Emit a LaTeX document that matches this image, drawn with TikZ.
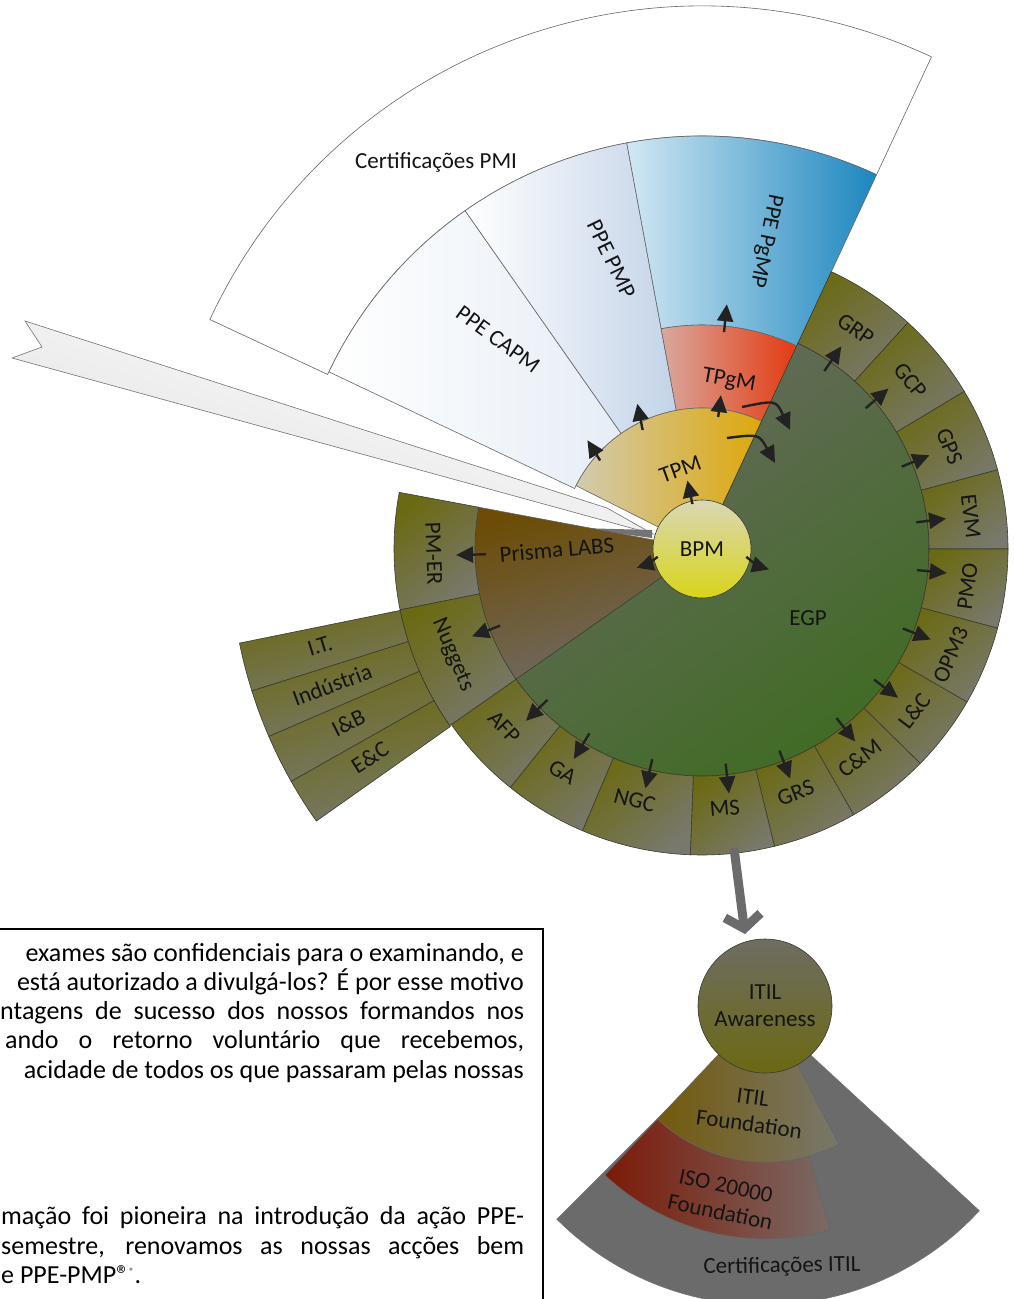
\documentclass[tikz,border=0pt]{standalone}
\usepackage{fontspec}
\setmainfont{Carlito}
\usetikzlibrary{arrows.meta}
\definecolor{olv}{HTML}{6B6A14}
\definecolor{gry}{HTML}{78786C}
\definecolor{egpA}{HTML}{676A5E}
\definecolor{egpB}{HTML}{3D6B20}
\definecolor{prA}{HTML}{6C4C06}
\definecolor{prB}{HTML}{706A64}
\definecolor{bpmA}{HTML}{DAD7B6}
\definecolor{bpmB}{HTML}{D8D518}
\definecolor{tpmA}{HTML}{D2CBB0}
\definecolor{tpmB}{HTML}{DDA80A}
\definecolor{tpgA}{HTML}{D9A89E}
\definecolor{tpgB}{HTML}{E33A10}
\definecolor{pgA}{HTML}{D2E8F3}
\definecolor{pgB}{HTML}{1C86BF}
\definecolor{pmpB}{HTML}{C3D3E8}
\definecolor{capB}{HTML}{E6EDF6}
\definecolor{arrc}{HTML}{222222}
\definecolor{bigg}{HTML}{6B6B6B}
\definecolor{isoA}{HTML}{7C1A08}
\definecolor{isoB}{HTML}{7A6A66}
\definecolor{fdA}{HTML}{735A0C}
\definecolor{fdB}{HTML}{78776C}
\definecolor{awA}{HTML}{6E6D62}
\definecolor{awB}{HTML}{6B6912}
\definecolor{edge}{HTML}{3A3A30}
\newcommand\mysect[5][]{\path[#1] (#2:#4) arc[start angle=#2,end angle=#3,radius=#4] -- (#3:#5) arc[start angle=#3,end angle=#2,radius=#5] -- cycle;}
\newcommand\myfan[4][]{\path[#1] (0,0) -- (#2:#4) arc[start angle=#2,end angle=#3,radius=#4] -- cycle;}
\begin{document}
\begin{tikzpicture}[x=1pt,y=1pt,
  lab/.style={font=\fontsize{23}{27}\selectfont, text=black!92, inner sep=0pt},
  lab1/.style={lab, text height=15pt, text depth=4pt},
  cell/.style={draw=edge, line width=0.6pt, top color=olv, bottom color=gry, shading angle=40},
  thin/.style={draw=black!60, line width=0.6pt},
  arw/.style={draw=arrc, line width=2.4pt, -{Triangle[length=17pt,width=16pt]}},
  bigarr/.style={draw=bigg, line width=9pt, -{Straight Barb[length=13pt,width=36pt]}},
  txt/.style={font=\fontsize{26}{29.3}\selectfont, inner sep=0pt, text height=18pt, text depth=5pt}]
\useasboundingbox (0,0) rectangle (1013,-1299);
\fill[white] (0,0) rectangle (1013,-1299);

% ---------- PMI fan ----------
\begin{scope}[shift={(702,-549)}]
 \mysect[thin, fill=white]{65}{155}{413}{543}
 \mysect[thin, left color=white, right color=capB]{125}{154.6}{141}{413}
 \mysect[thin, left color=white, right color=pmpB]{100.5}{125}{141}{413}
 \mysect[thin, left color=pgA, right color=pgB]{65}{100.5}{224}{413}
 \mysect[thin, left color=tpgA, right color=tpgB]{65}{100.5}{141}{224}
\end{scope}

% ---------- banner ----------
\path[draw=black!55, line width=0.6pt, top color=white, bottom color=black!12, shading angle=-18]
  (25,-321) -- (607,-508) -- (653,-534) -- (12,-358) -- (42,-347) -- cycle;
\fill[black!55] (578,-528) -- (652,-530) -- (652,-538) -- cycle;

% ---------- wheel ----------
\begin{scope}[shift={(702,-549)}]
 \mysect[thin, left color=tpmA, right color=tpmB]{65}{153.3}{40}{141}
 \mysect[thin, top color=prA, bottom color=prB, shading angle=15]{169.4}{215}{40}{227}
 \mysect[draw=edge, line width=0.6pt, top color=egpA, bottom color=egpB, shading angle=35]{-145}{65}{40}{227}
 \foreach \a/\b in {65/47.7,47.7/31,31/15,15/0,0/-15,-15/-30,-30/-44.5,-44.5/-60.3,-60.3/-76.3,-76.3/-92.2,-92.2/-113,-113/-128.8,-128.8/-145}
   {\mysect[cell]{\a}{\b}{227}{306}}
 \mysect[cell]{169.4}{191.4}{227}{308}
 \mysect[cell]{191.4}{215}{227}{308}
 \foreach \a/\b in {191.5/197.5,197.5/203.4,203.4/209.5,209.5/215.2}
   {\mysect[cell, shading angle=15]{\a}{\b}{308}{472}}

 \node[circle, minimum size=98pt, draw=edge, line width=0.6pt, top color=bpmA, bottom color=bpmB, lab] (bpm) at (0,0) {BPM};

 % ring arrows
 \foreach \n/\t in {GRP/55.5,GCP/40.7,GPS/22.4,EVM/7.1,PMO/-5.6,OPM/-21.6,LC/-37.2,CM/-51.5,GRS/-69,MS/-83.7,NGC/-103.3,GA/-121.4,AFP/-135.7,NUG/200.8,PMER/181.4}
   {\coordinate (a\n s) at (\t:216); \coordinate (a\n t) at (\t:246); \draw[arw] (a\n s) -- (a\n t);}

 % inner arrows
 \coordinate (b1s) at (102:46);   \coordinate (b1t) at (102:70);   \draw[arw] (b1s) -- (b1t);
 \coordinate (b2s) at (-10:45);   \coordinate (b2t) at (-17:70);   \draw[arw] (b2s) to[bend right=12] (b2t);
 \coordinate (b3s) at (190:45);   \coordinate (b3t) at (196:68);   \draw[arw] (b3s) to[bend left=10] (b3t);
 \coordinate (b4s) at (83:133);   \coordinate (b4t) at (83:155);   \draw[arw] (b4s) -- (b4t);
 \coordinate (b5s) at (116.5:133);\coordinate (b5t) at (114:159);  \draw[arw] (b5s) -- (b5t);
 \coordinate (b6s) at (139:135);  \coordinate (b6t) at (136.5:158);\draw[arw] (b6s) -- (b6t);
 \coordinate (b7s) at (84.2:218); \coordinate (b7t) at (84.2:246); \draw[arw] (b7s) -- (b7t);

 % ring labels
 \node[lab1, rotate=-35]   (lGRP)  at (55:266)   {GRP};
 \node[lab1, rotate=-51]   (lGCP)  at (39:266)   {GCP};
 \node[lab1, rotate=-67.5] (lGPS)  at (22.5:266) {GPS};
 \node[lab1, rotate=-83]   (lEVM)  at (7:269)    {EVM};
 \node[lab1, rotate=82]    (lPMO)  at (-8:270)   {PMO};
 \node[lab1, rotate=67]    (lOPM)  at (-23:272)  {OPM3};
 \node[lab1, rotate=52.7]  (lLC)   at (-37.3:269){L\&C};
 \node[lab1, rotate=37]    (lCM)   at (-53:264)  {C\&M};
 \node[lab1, rotate=21]    (lGRS)  at (-69:263)  {GRS};
 \node[lab1, rotate=5]     (lMS)   at (-85:262)  {MS};
 \node[lab1, rotate=-15]   (lNGC)  at (-105:262) {NGC};
 \node[lab1, rotate=-32]   (lGA)   at (-122:265) {GA};
 \node[lab1, rotate=-47]   (lAFP)  at (-138:268) {AFP};
 \node[lab1, rotate=-88]   (lPMER) at (181:270)  {PM-ER};
 \node[lab1, rotate=-67]   (lNUG)  at (203:271)  {Nuggets};
 \node[lab1, rotate=17]    (lIT)   at (194.5:394){I.T.};
 \node[lab1, rotate=20.5]  (lIND)  at (200.5:394){Indústria};
 \node[lab1, rotate=26.5]  (lIB)   at (206.5:394){I\&B};
 \node[lab1, rotate=32]    (lEC)   at (212.4:392){E\&C};
\end{scope}

% curved arrows
\coordinate (c1s) at (742,-407); \coordinate (c1t) at (790,-430);
\draw[arw] (c1s) .. controls (776,-400) .. (c1t);
\coordinate (c2s) at (727,-438); \coordinate (c2t) at (775,-463);
\draw[arw] (c2s) .. controls (759,-434) .. (c2t);

% main labels
\node[lab1] (lPMI) at (436,-163) {Certificações PMI};
\node[lab1, rotate=-101.6] (lPgMP) at (765.5,-241) {PPE PgMP};
\node[lab1, rotate=-64] (lPMP) at (609.7,-260) {PPE PMP};
\node[lab1, rotate=-36] (lCAPM) at (497,-341) {PPE CAPM};
\node[lab1, rotate=-10] (lTPgM) at (729,-381) {TPgM};
\node[lab1, rotate=20] (lTPM) at (681,-471) {TPM};
\node[lab1] (lEGP) at (808,-620) {EGP};
\node[lab1, rotate=5] (lPrisma) at (557,-552) {Prisma LABS};

% ---------- ITIL ----------
\begin{scope}[shift={(764,-1012)}]
 \myfan[fill=bigg, draw=edge!70, line width=0.6pt]{-135}{-42.7}{293}
\end{scope}
\begin{scope}[shift={(766,-1004)}]
 \mysect[thin, left color=isoA, right color=isoB]{-133.3}{-74.2}{158}{235}
 \myfan[thin, left color=fdA, right color=fdB]{-133.3}{-62.6}{158}
\end{scope}
\coordinate (msb) at (734,-848);
\coordinate (itilt) at (745,-934);
\draw[bigarr] (msb) -- (itilt);
\node[circle, minimum size=134pt, draw=edge, line width=0.6pt, top color=awA, bottom color=awB,
      lab, align=center] (itil) at (765,-1006) {ITIL\\Awareness};
\node[lab, align=center, rotate=-8] (lFd) at (751,-1111) {ITIL\\Foundation};
\node[lab, align=center, rotate=-12] (lISO) at (723,-1199) {ISO 20000\\Foundation};
\node[lab1, rotate=1] (lCITIL) at (782,-1267) {Certificações ITIL};

% ---------- text box ----------
\draw[line width=1.2pt] (-2,-929) -- (543,-929) -- (543,-1302);
\node[txt, anchor=base east] (t1) at (524,-961) {exames são confidenciais para o examinando, e};
\node[txt, anchor=base east] (t2) at (524,-990.3) {está autorizado a divulgá-los? É por esse motivo};
\node[txt, anchor=base west] (t3) at (0,-1019.6) {\makebox[524pt][s]{ntagens de sucesso dos nossos formandos nos}};
\node[txt, anchor=base west] (t4) at (5,-1048.9) {\makebox[519pt][s]{ando o retorno voluntário que recebemos,}};
\node[txt, anchor=base east] (t5) at (524,-1078.2) {acidade de todos os que passaram pelas nossas};
\node[txt, anchor=base west] (t6) at (1,-1224.7) {\makebox[523pt][s]{mação foi pioneira na introdução da ação PPE-}};
\node[txt, anchor=base west] (t7) at (1,-1254) {\makebox[523pt][s]{semestre, renovamos as nossas acções bem}};
\node[txt, anchor=base west] (t8) at (1,-1283.3) {e PPE-PMP®\textsuperscript{\fontsize{9}{9}\selectfont ®}.};
\end{tikzpicture}
\end{document}
